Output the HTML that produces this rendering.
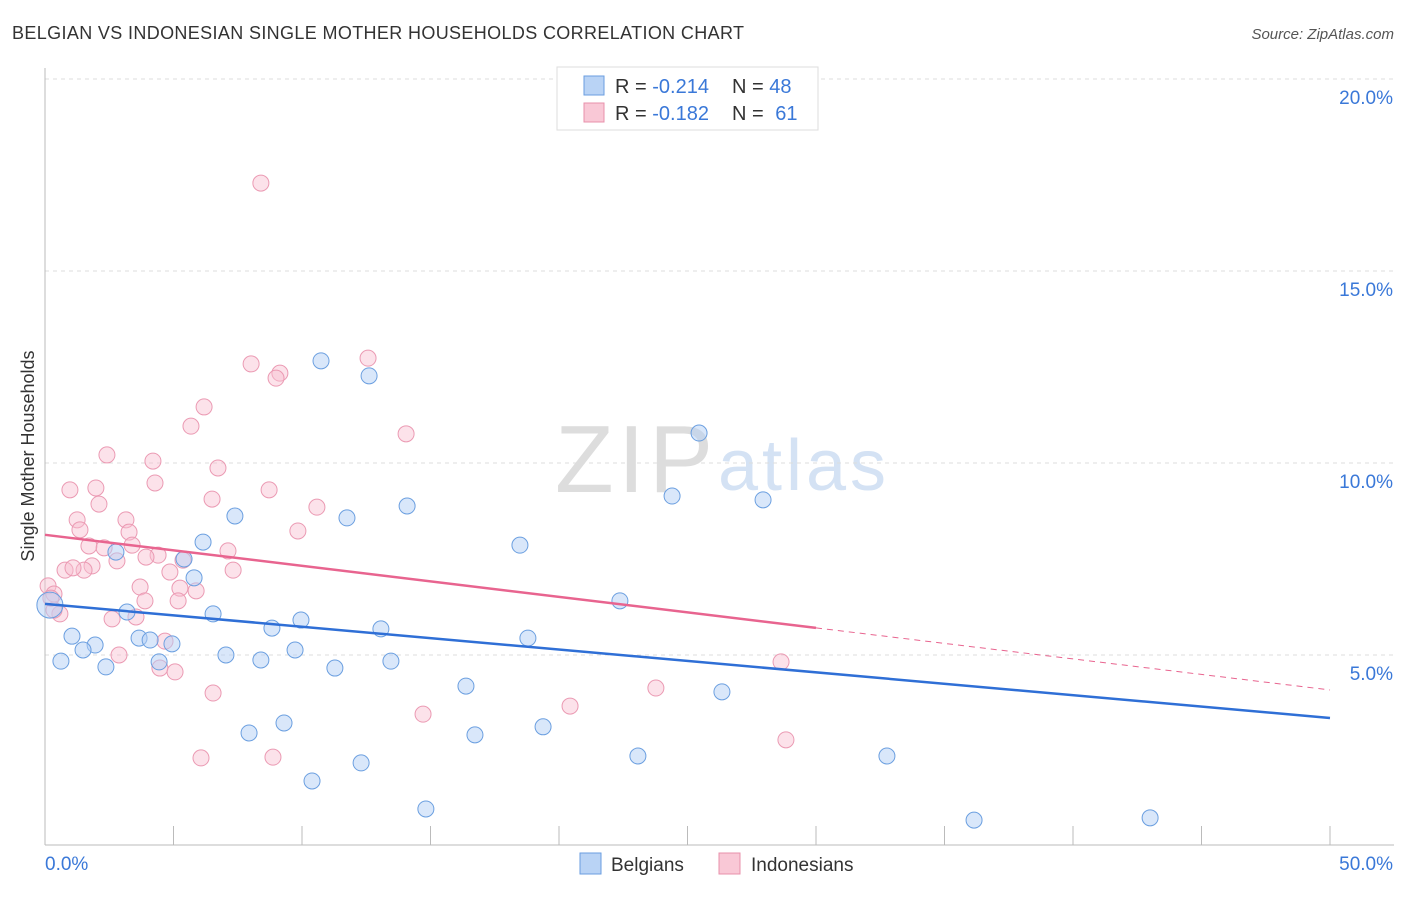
<!DOCTYPE html>
<html><head><meta charset="utf-8"><style>
body{margin:0;background:#fff;font-family:"Liberation Sans",sans-serif;}
svg text{font-family:"Liberation Sans",sans-serif;}
</style></head><body>
<svg id="c" width="1406" height="892" xmlns="http://www.w3.org/2000/svg">
<text x="12" y="39" font-size="18" fill="#333" textLength="732">BELGIAN VS INDONESIAN SINGLE MOTHER HOUSEHOLDS CORRELATION CHART</text>
<text x="1394" y="39" font-size="15" fill="#555" text-anchor="end" font-style="italic">Source: ZipAtlas.com</text>
<text x="34" y="456" font-size="18" fill="#333" text-anchor="middle" transform="rotate(-90 34 456)">Single Mother Households</text>
<text x="555" y="492" font-size="96" fill="#ddd" font-family="Liberation Serif" textLength="158">ZIP</text>
<text x="718" y="490" font-size="72" fill="#d4e2f4" textLength="168">atlas</text>
<g id="grid"></g><g id="axes"></g><g id="pts"></g><g id="lines"></g>
<g>
<rect x="557" y="67" width="261" height="63" fill="#fff" stroke="#ddd"/>
<rect x="584" y="76" width="20" height="19" fill="#b9d3f5" stroke="#6a9ee0"/>
<rect x="584" y="103" width="20" height="19" fill="#f9c8d6" stroke="#e890ab"/>
<text x="615" y="93" font-size="20" fill="#333">R = <tspan fill="#3a78d8">-0.214</tspan></text>
<text x="732" y="93" font-size="20" fill="#333">N = <tspan fill="#3a78d8">48</tspan></text>
<text x="615" y="120" font-size="20" fill="#333">R = <tspan fill="#3a78d8">-0.182</tspan></text>
<text x="732" y="120" font-size="20" fill="#333">N = <tspan fill="#3a78d8" dx="6">61</tspan></text>
</g>
<g>
<rect x="580" y="853" width="21" height="21" fill="#b9d3f5" stroke="#6a9ee0"/>
<text x="611" y="871" font-size="19" fill="#333">Belgians</text>
<rect x="719" y="853" width="21" height="21" fill="#f9c8d6" stroke="#e890ab"/>
<text x="751" y="871" font-size="19" fill="#333">Indonesians</text>
</g>
</svg>
<script>
const belX=[10.74,12.61,25.45,24.40,27.94,14.09,7.39,11.75,18.48,6.15,2.76,5.41,5.80,22.37,0.19,3.19,6.54,9.96,8.83,13.07,18.79,1.05,3.66,4.09,4.94,1.95,1.48,9.73,7.04,0.62,8.40,4.44,2.37,11.28,13.46,16.38,26.34,9.30,19.38,7.94,16.73,23.07,32.76,12.30,10.39,14.82,36.15,43.00];
const belY=[12.66,12.27,10.78,9.14,9.04,8.88,8.62,8.57,7.86,7.94,7.68,7.50,7.01,6.41,6.30,6.12,6.07,5.91,5.70,5.68,5.44,5.49,5.44,5.39,5.29,5.26,5.13,5.13,5.00,4.84,4.87,4.82,4.69,4.66,4.84,4.19,4.04,3.23,3.13,2.97,2.92,2.37,2.37,2.19,1.72,0.99,0.70,0.76];
const indX=[8.40,8.02,12.57,9.14,8.99,6.19,5.68,14.05,2.41,4.20,6.73,0.97,1.98,4.28,8.72,6.50,2.10,10.58,1.25,3.15,1.36,9.84,3.27,1.71,2.30,3.39,7.12,4.40,3.93,2.80,0.78,1.83,1.52,1.09,4.86,7.32,5.37,0.12,3.70,5.25,5.88,0.35,3.89,5.18,0.58,2.61,3.54,0.35,4.67,2.88,4.47,5.06,6.54,23.77,20.43,14.71,28.64,28.83,6.07,8.87,0.23];
const indY=[17.29,12.58,12.73,12.34,12.21,11.46,10.96,10.76,10.21,10.05,9.87,9.30,9.35,9.48,9.30,9.06,8.93,8.85,8.52,8.52,8.26,8.23,8.20,7.84,7.79,7.86,7.71,7.60,7.55,7.45,7.21,7.32,7.21,7.27,7.16,7.21,7.47,6.80,6.77,6.74,6.67,6.59,6.41,6.41,6.07,5.94,5.99,6.17,5.36,5.00,4.66,4.56,4.01,4.14,3.67,3.46,4.82,2.79,2.32,2.34,6.48];
const yTicks=[5,10,15,20];
const yTickLabels=["5.0%","10.0%","15.0%","20.0%"];
const xTicks=[0,5,10,15,20,25,30,35,40,45,50];
const belTrend=[6.33,3.36];
const indTrend=[8.13,4.09];
const indSolidEnd=30;
const X=v=>45+v/50*1285, Y=v=>847-v*38.4;
const NS="http://www.w3.org/2000/svg";
function mk(p,t,a){const e=document.createElementNS(NS,t);for(const k in a)e.setAttribute(k,a[k]);document.getElementById(p).appendChild(e);return e;}
yTicks.forEach((v,i)=>{
 const l=mk('grid','line',{x1:45,x2:1394,y1:Y(v),y2:Y(v),stroke:'#ddd','stroke-dasharray':'4 4'});
 
 
 const t=mk('grid','text',{x:1393,y:Y(v)+25,'font-size':19,fill:'#3a78d8','text-anchor':'end'});
 t.textContent=yTickLabels[i];
 
 
});
const tl=mk('grid','line',{x1:45,x2:1394,y1:79,y2:79,stroke:'#ddd','stroke-dasharray':'4 4'});


const ya=mk('axes','line',{x1:45,x2:45,y1:68,y2:845,stroke:'#bbb'});


const xa=mk('axes','line',{x1:45,x2:1394,y1:845,y2:845,stroke:'#bbb'});


xTicks.forEach(v=>{
 const t=mk('axes','line',{x1:X(v),x2:X(v),y1:826,y2:845,stroke:'#bbb'});
 
 
});
const x0=mk('axes','text',{x:45,y:870,'font-size':19,fill:'#3a78d8'});x0.textContent='0.0%';


const x1=mk('axes','text',{x:1393,y:870,'font-size':19,fill:'#3a78d8','text-anchor':'end'});x1.textContent='50.0%';


indX.forEach((v,i)=>{
 const c=mk('pts','circle',{cx:X(v),cy:Y(indY[i]),r:8,fill:'rgba(249,190,208,0.45)',stroke:'#eb9ab3','stroke-width':1});
 
 
});
belX.forEach((v,i)=>{
 const c=mk('pts','circle',{cx:X(v),cy:Y(belY[i]),r:(i==14?13:8),fill:'rgba(180,208,245,0.5)',stroke:'#6b9fe0','stroke-width':1});
 
 
});
const bl=mk('lines','line',{x1:X(0),y1:Y(belTrend[0]),x2:X(50),y2:Y(belTrend[1]),stroke:'#2f6fd6','stroke-width':2.5});


const iy=x=>indTrend[0]+(indTrend[1]-indTrend[0])*x/50;
const il=mk('lines','line',{x1:X(0),y1:Y(iy(0)),x2:X(indSolidEnd),y2:Y(iy(indSolidEnd)),stroke:'#e8648f','stroke-width':2.5});


const id=mk('lines','line',{x1:X(indSolidEnd),y1:Y(iy(indSolidEnd)),x2:X(50),y2:Y(iy(50)),stroke:'#e8648f','stroke-width':1,'stroke-dasharray':'6 5'});


</script>
</body></html>
